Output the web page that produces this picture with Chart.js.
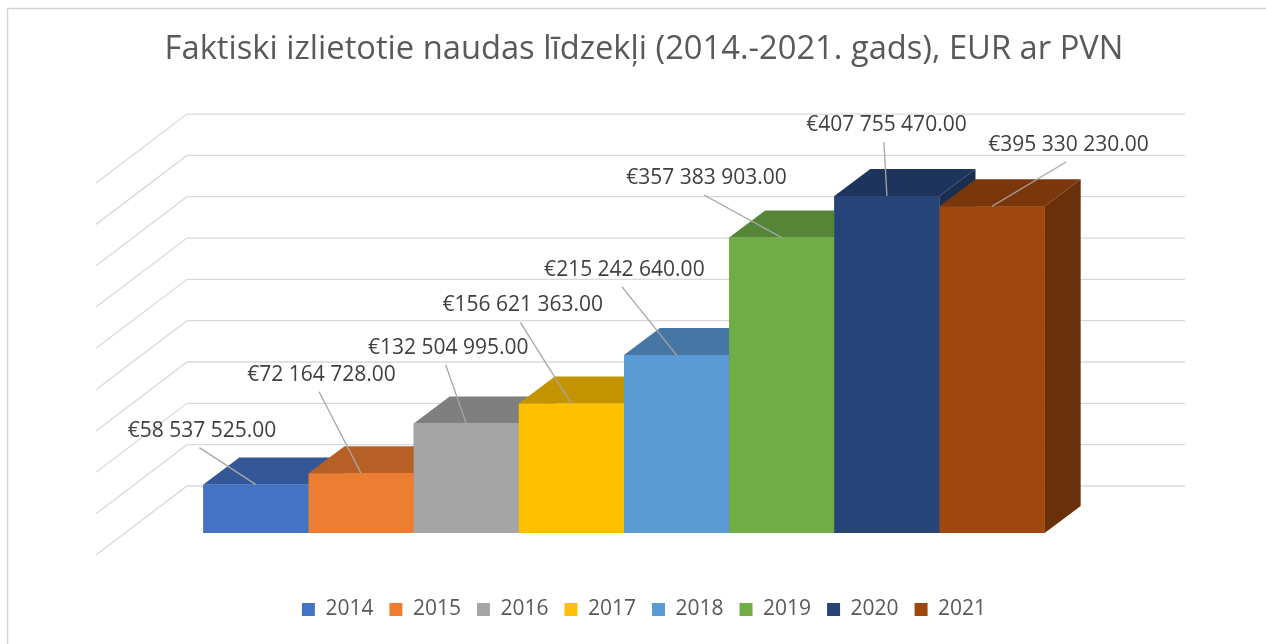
<!DOCTYPE html>
<html>
<head>
<meta charset="utf-8">
<script src="https://cdn.jsdelivr.net/npm/chart.js@4.4.1/dist/chart.umd.min.js"></script>
<style>
  html, body { margin: 0; padding: 0; background: #fff; }
  canvas { display: block; }
</style>
</head>
<body>
<canvas id="chart" width="1266" height="644"></canvas>
<script>
// data
const YEARS = ["2014", "2015", "2016", "2017", "2018", "2019", "2020", "2021"];
const VALUES = [58537525, 72164728, 132504995, 156621363, 215242640, 357383903, 407755470, 395330230];
const COLORS = ["#4472C4", "#ED7D31", "#A5A5A5", "#FFC000", "#5B9BD5", "#70AD47", "#264478", "#9E480E"];
const Y_MAX = 450000000;
const Y_STEP = 50000000;
const TITLE = "Faktiski izlietotie naudas līdzekļi (2014.-2021. gads), EUR ar PVN";

// where each data label sits, relative to the top of its bar
const LABEL_OFFSETS = [[-54, -54], [-39.5, -98.6], [-18, -75.5], [-48.6, -98.2],
                       [-52.2, -85.5], [-75.2, -59.6], [-0.5, -71], [76.5, -61.2]];

// fake 3d geometry
const DEPTH_DX = 36, DEPTH_DY = -27;   // bar depth
const WALL_DX = 62, WALL_DY = -47;     // back wall behind the bars
const SIDE_DX = -29, SIDE_DY = 22;     // front edge of the side wall

Chart.defaults.font.family = "'Open Sans', sans-serif";

function shade(hex, k) {
  const n = parseInt(hex.slice(1), 16);
  const r = Math.round(((n >> 16) & 255) * k);
  const g = Math.round(((n >> 8) & 255) * k);
  const b = Math.round((n & 255) * k);
  return "rgb(" + r + "," + g + "," + b + ")";
}

function euro(v) {
  const parts = v.toFixed(2).split(".");
  return "€" + parts[0].replace(/\B(?=(\d{3})+(?!\d))/g, " ") + "." + parts[1];
}

const bars3d = {
  id: "bars3d",
  beforeDraw(chart) {
    const ctx = chart.ctx;
    ctx.save();
    ctx.strokeStyle = "#d4d4d4";
    ctx.lineWidth = 1.5;
    ctx.beginPath();
    ctx.moveTo(7.5, chart.height);
    ctx.lineTo(7.5, 8.5);
    ctx.lineTo(chart.width, 8.5);
    ctx.stroke();
    ctx.restore();
  },
  beforeDatasetsDraw(chart) {
    const { ctx, chartArea, scales: { y } } = chart;
    ctx.save();
    ctx.strokeStyle = "#d9d9d9";
    ctx.lineWidth = 1.3;
    y.ticks.forEach(t => {
      const py = y.getPixelForValue(t.value);
      ctx.beginPath();
      ctx.moveTo(chartArea.left + SIDE_DX, py + SIDE_DY);
      ctx.lineTo(chartArea.left + WALL_DX, py + WALL_DY);
      ctx.lineTo(chartArea.right + WALL_DX, py + WALL_DY);
      ctx.stroke();
    });
    ctx.restore();
  },
  afterDatasetsDraw(chart) {
    const ctx = chart.ctx;
    const tops = [];
    // left to right: side, top, then front again so the next bar hides this one's side
    chart.data.datasets.forEach((ds, i) => {
      const meta = chart.getDatasetMeta(i);
      meta.data.forEach(bar => {
        const { x, y, base, width } = bar.getProps(["x", "y", "base", "width"], true);
        const l = x - width / 2, r = x + width / 2;
        ctx.save();
        ctx.fillStyle = shade(ds.backgroundColor, 0.67);
        ctx.beginPath();
        ctx.moveTo(r, y);
        ctx.lineTo(r + DEPTH_DX, y + DEPTH_DY);
        ctx.lineTo(r + DEPTH_DX, base + DEPTH_DY);
        ctx.lineTo(r, base);
        ctx.closePath();
        ctx.fill();
        ctx.fillStyle = shade(ds.backgroundColor, 0.77);
        ctx.beginPath();
        ctx.moveTo(l, y);
        ctx.lineTo(l + DEPTH_DX, y + DEPTH_DY);
        ctx.lineTo(r + DEPTH_DX, y + DEPTH_DY);
        ctx.lineTo(r, y);
        ctx.closePath();
        ctx.fill();
        ctx.restore();
        bar.draw(ctx, chart.chartArea);
        tops.push({ x, y, v: ds.data[0], i });
      });
    });

    // data labels with leader lines
    ctx.save();
    ctx.font = "21px 'Open Sans'";
    ctx.textAlign = "center";
    ctx.textBaseline = "middle";
    tops.forEach(p => {
      const off = LABEL_OFFSETS[p.i];
      const cx = p.x + off[0], cy = p.y + off[1];
      ctx.strokeStyle = "#a6a6a6";
      ctx.lineWidth = 1.3;
      ctx.beginPath();
      ctx.moveTo(cx - 2.5, cy + 17);
      ctx.lineTo(p.x, p.y);
      ctx.stroke();
      ctx.fillStyle = "#404040";
      ctx.fillText(euro(p.v), cx, cy);
    });
    ctx.restore();
  }
};

const datasets = YEARS.map((year, i) => ({
  label: year,
  data: [VALUES[i]],
  backgroundColor: COLORS[i],
  borderWidth: 0
}));

new Chart(document.getElementById("chart"), {
  type: "bar",
  data: { labels: [""], datasets },
  options: {
    responsive: false,
    animation: false,
    events: [],
    categoryPercentage: 0.843,
    barPercentage: 1,
    layout: { padding: { left: 22, right: 0, top: 0, bottom: 14 } },
    plugins: {
      title: {
        display: true,
        text: TITLE,
        color: "#595959",
        font: { size: 32.7, weight: "normal" },
        padding: { top: 30, bottom: 91.8 }
      },
      legend: {
        position: "bottom",
        labels: {
          color: "#595959",
          font: { size: 21 },
          boxWidth: 13,
          boxHeight: 13,
          padding: 16
        }
      },
      tooltip: { enabled: false }
    },
    scales: {
      x: {
        grid: { display: false },
        border: { display: false },
        ticks: { display: false },
        afterFit: s => { s.height = 50; }
      },
      y: {
        min: 0,
        max: Y_MAX,
        ticks: { display: false, stepSize: Y_STEP },
        grid: { display: false },
        border: { display: false },
        afterFit: s => { s.width = 103; }
      },
      y2: {
        position: "right",
        ticks: { display: false },
        grid: { display: false },
        border: { display: false },
        afterFit: s => { s.width = 143; }
      }
    }
  },
  plugins: [bars3d]
});
</script>
</body>
</html>
